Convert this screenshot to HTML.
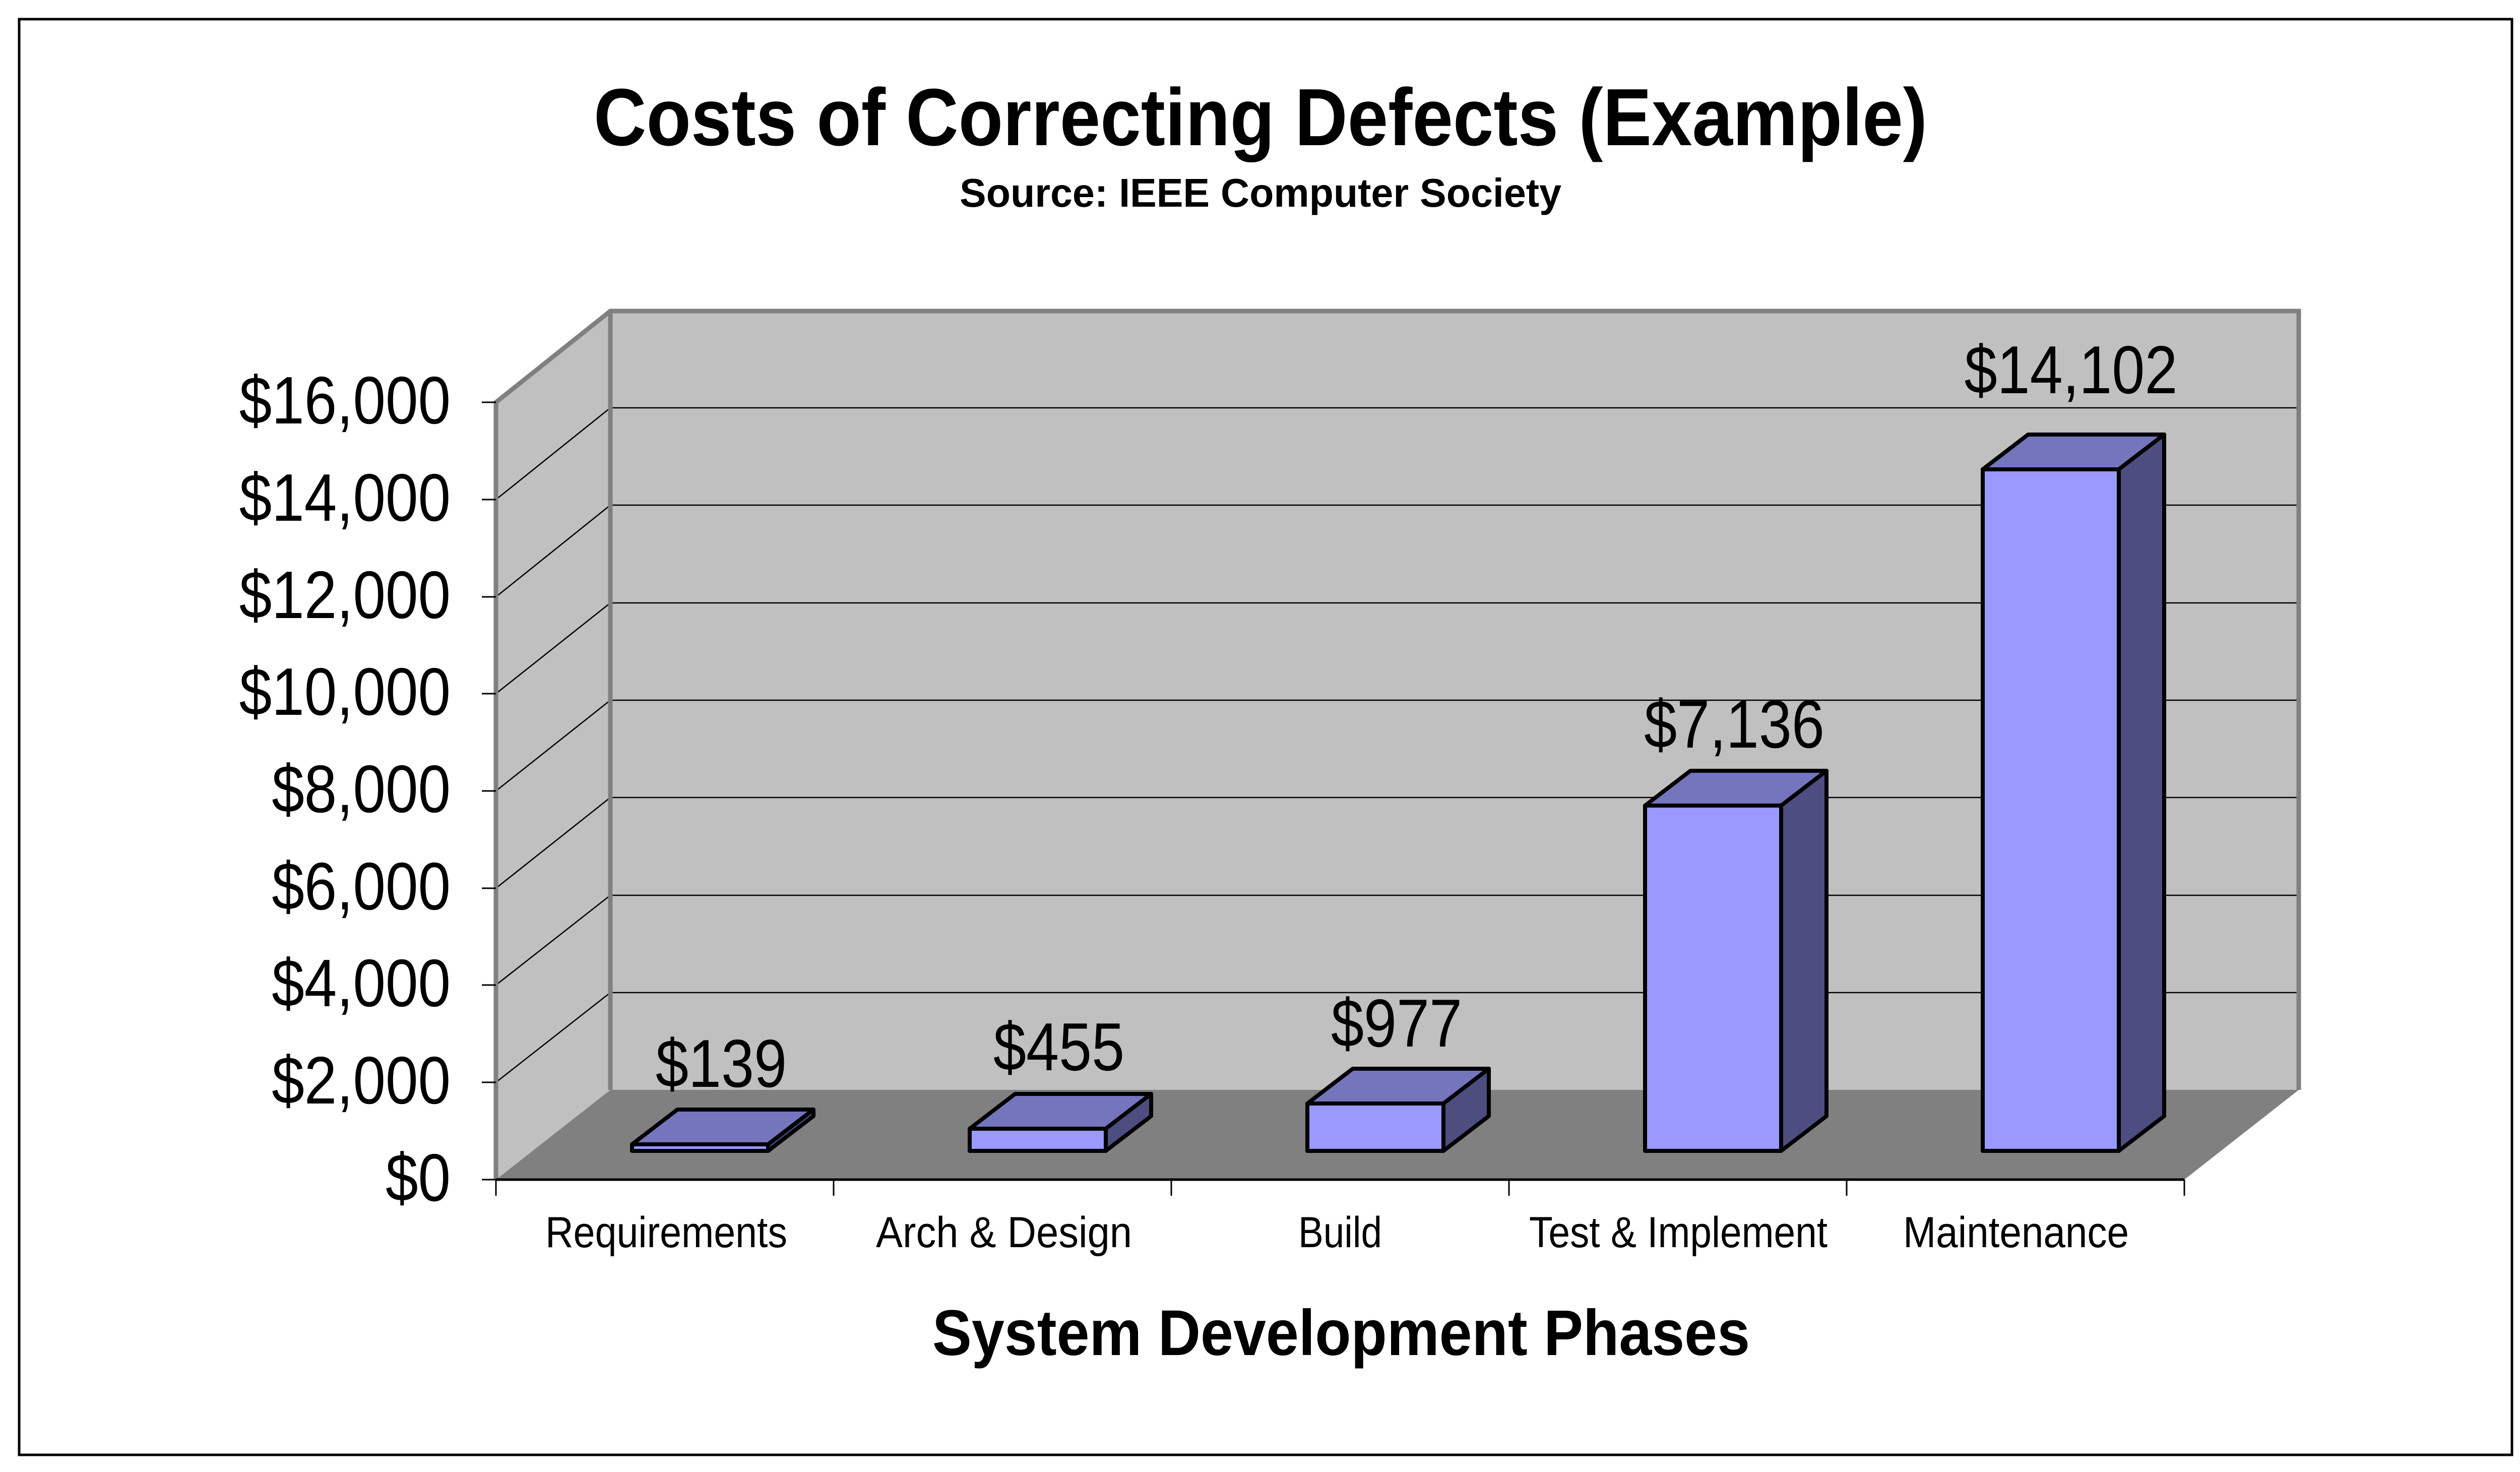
<!DOCTYPE html>
<html><head><meta charset="utf-8"><style>html,body{margin:0;padding:0;background:#fff}svg{display:block}</style></head>
<body>
<svg width="5018" height="2920" viewBox="0 0 5018 2920" xmlns="http://www.w3.org/2000/svg" font-family="Liberation Sans, Arial, sans-serif">
<rect x="0" y="0" width="5018" height="2920" fill="#fff"/>
<rect x="38" y="38" width="4946" height="2848" fill="none" stroke="#000" stroke-width="5"/>
<!-- title -->
<g transform="translate(2501,288) scale(1,1.15)"><text x="0" y="0" text-anchor="middle" font-size="140" font-weight="bold" textLength="2646" lengthAdjust="spacingAndGlyphs">Costs of Correcting Defects (Example)</text></g>
<g transform="translate(2501,410) scale(1,1.15)"><text x="0" y="0" text-anchor="middle" font-size="69" font-weight="bold" textLength="1194" lengthAdjust="spacingAndGlyphs">Source:  IEEE Computer Society</text></g>
<!-- walls -->
<polygon points="984,798 1211,617 1211,2162 984,2340" fill="#c0c0c0"/>
<rect x="1211" y="617" width="3350" height="1545" fill="#c0c0c0"/>
<polygon points="984,2340 4334,2340 4561,2162 1211,2162" fill="#808080"/>
<g stroke="#000" stroke-width="2.5">
<line x1="1211" y1="1969" x2="4561" y2="1969"/>
<line x1="1211" y1="1776" x2="4561" y2="1776"/>
<line x1="1211" y1="1582" x2="4561" y2="1582"/>
<line x1="1211" y1="1389" x2="4561" y2="1389"/>
<line x1="1211" y1="1196" x2="4561" y2="1196"/>
<line x1="1211" y1="1002" x2="4561" y2="1002"/>
<line x1="1211" y1="809" x2="4561" y2="809"/>
<line x1="984" y1="2147" x2="1211" y2="1969"/>
<line x1="984" y1="1954" x2="1211" y2="1776"/>
<line x1="984" y1="1762" x2="1211" y2="1582"/>
<line x1="984" y1="1569" x2="1211" y2="1389"/>
<line x1="984" y1="1376" x2="1211" y2="1196"/>
<line x1="984" y1="1184" x2="1211" y2="1002"/>
<line x1="984" y1="991" x2="1211" y2="809"/>
</g>
<g stroke="#808080" stroke-width="9" fill="none" stroke-linejoin="miter">
<polyline points="984,2340 984,798 1211,617 4561,617 4561,2162"/>
<line x1="1211" y1="617" x2="1211" y2="2162"/>
</g>
<!-- axes ticks -->
<g stroke="#000" stroke-width="3">
<line x1="984" y1="2340" x2="4334" y2="2340" stroke-width="5"/>
<line x1="956" y1="2340" x2="984" y2="2340"/>
<line x1="956" y1="2147" x2="984" y2="2147"/>
<line x1="956" y1="1954" x2="984" y2="1954"/>
<line x1="956" y1="1762" x2="984" y2="1762"/>
<line x1="956" y1="1569" x2="984" y2="1569"/>
<line x1="956" y1="1376" x2="984" y2="1376"/>
<line x1="956" y1="1184" x2="984" y2="1184"/>
<line x1="956" y1="991" x2="984" y2="991"/>
<line x1="956" y1="798" x2="984" y2="798"/>
<line x1="984" y1="2340" x2="984" y2="2372"/>
<line x1="1654" y1="2340" x2="1654" y2="2372"/>
<line x1="2324" y1="2340" x2="2324" y2="2372"/>
<line x1="2994" y1="2340" x2="2994" y2="2372"/>
<line x1="3664" y1="2340" x2="3664" y2="2372"/>
<line x1="4334" y1="2340" x2="4334" y2="2372"/>
</g>
<!-- y labels -->
<g font-size="116" text-anchor="end">
<g transform="translate(894,2382) scale(1,1.15)"><text>$0</text></g>
<g transform="translate(894,2189) scale(1,1.15)"><text>$2,000</text></g>
<g transform="translate(894,1996) scale(1,1.15)"><text>$4,000</text></g>
<g transform="translate(894,1804) scale(1,1.15)"><text>$6,000</text></g>
<g transform="translate(894,1611) scale(1,1.15)"><text>$8,000</text></g>
<g transform="translate(894,1418) scale(1,1.15)"><text>$10,000</text></g>
<g transform="translate(894,1226) scale(1,1.15)"><text>$12,000</text></g>
<g transform="translate(894,1033) scale(1,1.15)"><text>$14,000</text></g>
<g transform="translate(894,840) scale(1,1.15)"><text>$16,000</text></g>
</g>
<!-- bars -->
<g stroke="#000" stroke-width="8" stroke-linejoin="round">
<polygon points="1254,2270 1344,2201 1614,2201 1524,2270" fill="#7575bd"/>
<polygon points="1524,2270 1614,2201 1614,2214 1524,2283" fill="#4d4d80"/>
<rect x="1254" y="2270" width="270" height="13" fill="#9999ff"/>

<polygon points="1924,2239 2014,2170 2284,2170 2194,2239" fill="#7575bd"/>
<polygon points="2194,2239 2284,2170 2284,2214 2194,2283" fill="#4d4d80"/>
<rect x="1924" y="2239" width="270" height="44" fill="#9999ff"/>

<polygon points="2594,2189 2684,2120 2954,2120 2864,2189" fill="#7575bd"/>
<polygon points="2864,2189 2954,2120 2954,2214 2864,2283" fill="#4d4d80"/>
<rect x="2594" y="2189" width="270" height="94" fill="#9999ff"/>

<polygon points="3264,1598 3354,1529 3624,1529 3534,1598" fill="#7575bd"/>
<polygon points="3534,1598 3624,1529 3624,2214 3534,2283" fill="#4d4d80"/>
<rect x="3264" y="1598" width="270" height="685" fill="#9999ff"/>

<polygon points="3934,931 4024,862 4294,862 4204,931" fill="#7575bd"/>
<polygon points="4204,931 4294,862 4294,2214 4204,2283" fill="#4d4d80"/>
<rect x="3934" y="931" width="270" height="1352" fill="#9999ff"/>
</g>
<!-- value labels -->
<g font-size="117" text-anchor="middle">
<g transform="translate(1431,2156) scale(1,1.15)"><text>$139</text></g>
<g transform="translate(2101,2123) scale(1,1.15)"><text>$455</text></g>
<g transform="translate(2771,2076) scale(1,1.15)"><text>$977</text></g>
<g transform="translate(3441,1483) scale(1,1.15)"><text>$7,136</text></g>
<g transform="translate(4109,780) scale(1,1.15)"><text>$14,102</text></g>
</g>
<!-- category labels -->
<g font-size="75" text-anchor="middle">
<g transform="translate(1322,2474) scale(1,1.15)"><text textLength="480" lengthAdjust="spacingAndGlyphs">Requirements</text></g>
<g transform="translate(1992,2474) scale(1,1.15)"><text textLength="508" lengthAdjust="spacingAndGlyphs">Arch &amp; Design</text></g>
<g transform="translate(2659,2474) scale(1,1.15)"><text textLength="166" lengthAdjust="spacingAndGlyphs">Build</text></g>
<g transform="translate(3330,2474) scale(1,1.15)"><text textLength="592" lengthAdjust="spacingAndGlyphs">Test &amp; Implement</text></g>
<g transform="translate(4000,2474) scale(1,1.15)"><text textLength="448" lengthAdjust="spacingAndGlyphs">Maintenance</text></g>
</g>
<g transform="translate(2661,2688) scale(1,1.15)"><text text-anchor="middle" font-size="111" font-weight="bold" textLength="1622" lengthAdjust="spacingAndGlyphs">System Development Phases</text></g>
</svg>
</body></html>
